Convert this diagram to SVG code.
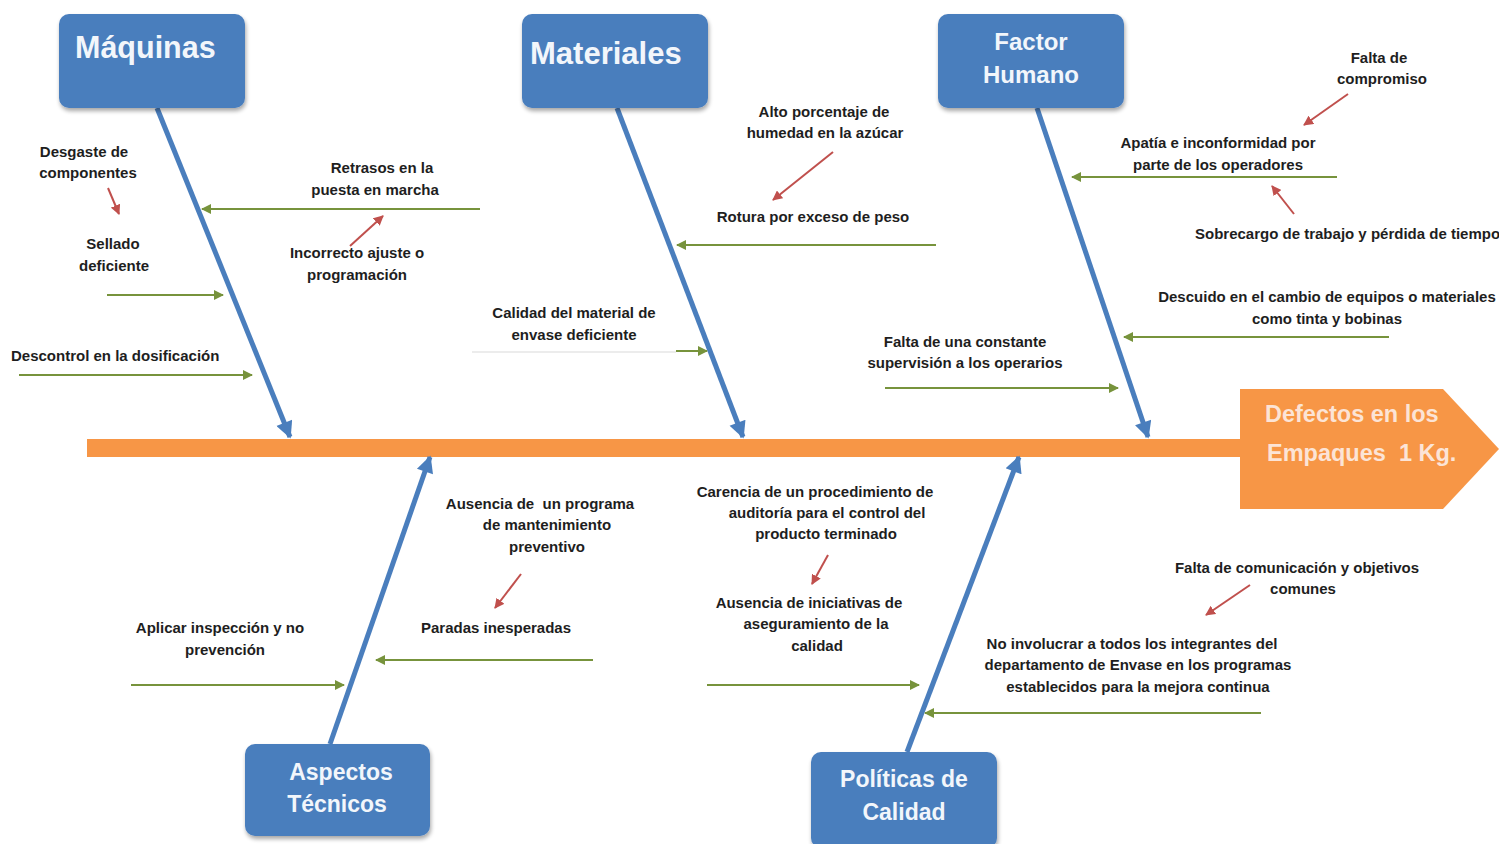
<svg xmlns="http://www.w3.org/2000/svg" width="1499" height="844" viewBox="0 0 1499 844">
<defs>
<marker id="mb" viewBox="0 0 10 10" refX="9" refY="5" markerWidth="4.2" markerHeight="3.4" orient="auto" markerUnits="strokeWidth"><path d="M0,0 L10,5 L0,10 z" fill="#4a7ebd"/></marker>
<marker id="mg" viewBox="0 0 10 10" refX="9" refY="5" markerWidth="6" markerHeight="5" orient="auto" markerUnits="strokeWidth"><path d="M0,0 L10,5 L0,10 z" fill="#77933c"/></marker>
<marker id="mr" viewBox="0 0 10 10" refX="9" refY="5" markerWidth="5" markerHeight="5" orient="auto" markerUnits="strokeWidth"><path d="M0,0 L10,5 L0,10 z" fill="#c0504d"/></marker>
<filter id="sh" x="-10%" y="-10%" width="130%" height="130%"><feGaussianBlur in="SourceAlpha" stdDeviation="2"/><feOffset dx="1" dy="3"/><feComponentTransfer><feFuncA type="linear" slope="0.35"/></feComponentTransfer><feMerge><feMergeNode/><feMergeNode in="SourceGraphic"/></feMerge></filter>
</defs>
<style>
.box{fill:#4a7ebd;filter:url(#sh)}
.bt{font-family:"Liberation Sans",Arial,sans-serif;font-weight:bold;fill:#f2f6fb}
.t{font-family:"Liberation Sans",Arial,sans-serif;font-weight:bold;font-size:15px;fill:#1e1e1e;text-anchor:middle}
.ts{text-anchor:start}
.bone{stroke:#4a7ebd;stroke-width:5;fill:none;marker-end:url(#mb)}
.g{stroke:#77933c;stroke-width:2;fill:none;marker-end:url(#mg)}
.r{stroke:#c0504d;stroke-width:2;fill:none;marker-end:url(#mr)}
.ht{font-family:"Liberation Sans",Arial,sans-serif;font-weight:bold;font-size:23.5px;fill:#fce4d6}
</style>
<rect width="1499" height="844" fill="#ffffff"/>

<g id="spine">
<rect x="87" y="439" width="1160" height="18" fill="#f79646"/>
</g>

<g id="effect">
<path d="M1240,389 L1443,389 L1499,449 L1443,509 L1240,509 z" fill="#f79646"/>
<text class="ht" x="1265" y="422">Defectos en los</text>
<text class="ht" x="1267" y="461" xml:space="preserve">Empaques  1 Kg.</text>
</g>

<g id="connectors">
<line class="bone" x1="157" y1="108" x2="290" y2="437"/>
<line class="bone" x1="617" y1="108" x2="743" y2="437"/>
<line class="bone" x1="1037" y1="108" x2="1148" y2="437"/>
<line class="bone" x1="330" y1="744" x2="430" y2="457"/>
<line class="bone" x1="907" y1="752" x2="1019" y2="457"/>

<line class="g" x1="480" y1="209" x2="202" y2="209"/>
<line class="g" x1="107" y1="295" x2="223" y2="295"/>
<line class="g" x1="19" y1="375" x2="252" y2="375"/>
<line class="g" x1="936" y1="245" x2="677" y2="245"/>
<line x1="472" y1="352" x2="676" y2="352" stroke="#d9d9d9" stroke-width="1"/>
<line class="g" x1="676" y1="351" x2="707" y2="351"/>
<line class="g" x1="1337" y1="177" x2="1072" y2="177"/>
<line class="g" x1="1389" y1="337" x2="1124" y2="337"/>
<line class="g" x1="885" y1="388" x2="1118" y2="388"/>
<line class="g" x1="131" y1="685" x2="344" y2="685"/>
<line class="g" x1="593" y1="660" x2="376" y2="660"/>
<line class="g" x1="707" y1="685" x2="919" y2="685"/>
<line class="g" x1="1261" y1="713" x2="925" y2="713"/>

<line class="r" x1="108" y1="188" x2="119" y2="214"/>
<line class="r" x1="350" y1="246" x2="383" y2="216"/>
<line class="r" x1="833" y1="152" x2="773" y2="200"/>
<line class="r" x1="1348" y1="94" x2="1304" y2="125"/>
<line class="r" x1="1294" y1="214" x2="1272" y2="186"/>
<line class="r" x1="521" y1="574" x2="495" y2="608"/>
<line class="r" x1="828" y1="555" x2="812" y2="584"/>
<line class="r" x1="1250" y1="585" x2="1206" y2="615"/>
</g>

<g id="maquinas">
<rect class="box" x="59" y="14" width="186" height="94" rx="10"/>
<text class="bt" x="75" y="58" font-size="30.5">Máquinas</text>
</g>
<g id="materiales">
<rect class="box" x="522" y="14" width="186" height="94" rx="10"/>
<text class="bt" x="530" y="64" font-size="31">Materiales</text>
</g>
<g id="factor-humano">
<rect class="box" x="938" y="14" width="186" height="94" rx="10"/>
<text class="bt" x="1031" y="50" font-size="24" text-anchor="middle">Factor</text>
<text class="bt" x="1031" y="83" font-size="24" text-anchor="middle">Humano</text>
</g>
<g id="aspectos-tecnicos">
<rect class="box" x="245" y="744" width="185" height="92" rx="10"/>
<text class="bt" x="341" y="780" font-size="23" text-anchor="middle">Aspectos</text>
<text class="bt" x="337" y="812" font-size="23" text-anchor="middle">Técnicos</text>
</g>
<g id="politicas-calidad">
<rect class="box" x="811" y="752" width="186" height="96" rx="10"/>
<text class="bt" x="904" y="787" font-size="23" text-anchor="middle">Políticas de</text>
<text class="bt" x="904" y="820" font-size="23" text-anchor="middle">Calidad</text>
</g>

<g id="causes-maquinas">
<text class="t" x="84" y="157">Desgaste de</text>
<text class="t" x="88" y="178">componentes</text>
<text class="t" x="113" y="249">Sellado</text>
<text class="t" x="114" y="271">deficiente</text>
<text class="t ts" x="11" y="361">Descontrol en la dosificación</text>
<text class="t" x="382" y="173">Retrasos en la</text>
<text class="t" x="375" y="195">puesta en marcha</text>
<text class="t" x="357" y="258">Incorrecto ajuste o</text>
<text class="t" x="357" y="280">programación</text>
</g>

<g id="causes-materiales">
<text class="t" x="824" y="117">Alto porcentaje de</text>
<text class="t" x="825" y="138">humedad en la azúcar</text>
<text class="t" x="813" y="222">Rotura por exceso de peso</text>
<text class="t" x="574" y="318">Calidad del material de</text>
<text class="t" x="574" y="340">envase deficiente</text>
</g>

<g id="causes-factor-humano">
<text class="t" x="1379" y="63">Falta de</text>
<text class="t" x="1382" y="84">compromiso</text>
<text class="t" x="1218" y="148">Apatía e inconformidad por</text>
<text class="t" x="1218" y="170">parte de los operadores</text>
<text class="t ts" x="1195" y="239">Sobrecargo de trabajo y pérdida de tiempo</text>
<text class="t" x="1327" y="302">Descuido en el cambio de equipos o materiales</text>
<text class="t" x="1327" y="324">como tinta y bobinas</text>
<text class="t" x="965" y="347">Falta de una constante</text>
<text class="t" x="965" y="368">supervisión a los operarios</text>
</g>

<g id="causes-aspectos">
<text class="t" x="540" y="509" xml:space="preserve">Ausencia de  un programa</text>
<text class="t" x="547" y="530">de mantenimiento</text>
<text class="t" x="547" y="552">preventivo</text>
<text class="t" x="496" y="633">Paradas inesperadas</text>
<text class="t" x="220" y="633">Aplicar inspección y no</text>
<text class="t" x="225" y="655">prevención</text>
</g>

<g id="causes-politicas">
<text class="t" x="815" y="497">Carencia de un procedimiento de</text>
<text class="t" x="827" y="518">auditoría para el control del</text>
<text class="t" x="826" y="539">producto terminado</text>
<text class="t" x="809" y="608">Ausencia de iniciativas de</text>
<text class="t" x="816" y="629">aseguramiento de la</text>
<text class="t" x="817" y="651">calidad</text>
<text class="t" x="1297" y="573">Falta de comunicación y objetivos</text>
<text class="t" x="1303" y="594">comunes</text>
<text class="t" x="1132" y="649">No involucrar a todos los integrantes del</text>
<text class="t" x="1138" y="670">departamento de Envase en los programas</text>
<text class="t" x="1138" y="692">establecidos para la mejora continua</text>
</g>
</svg>
